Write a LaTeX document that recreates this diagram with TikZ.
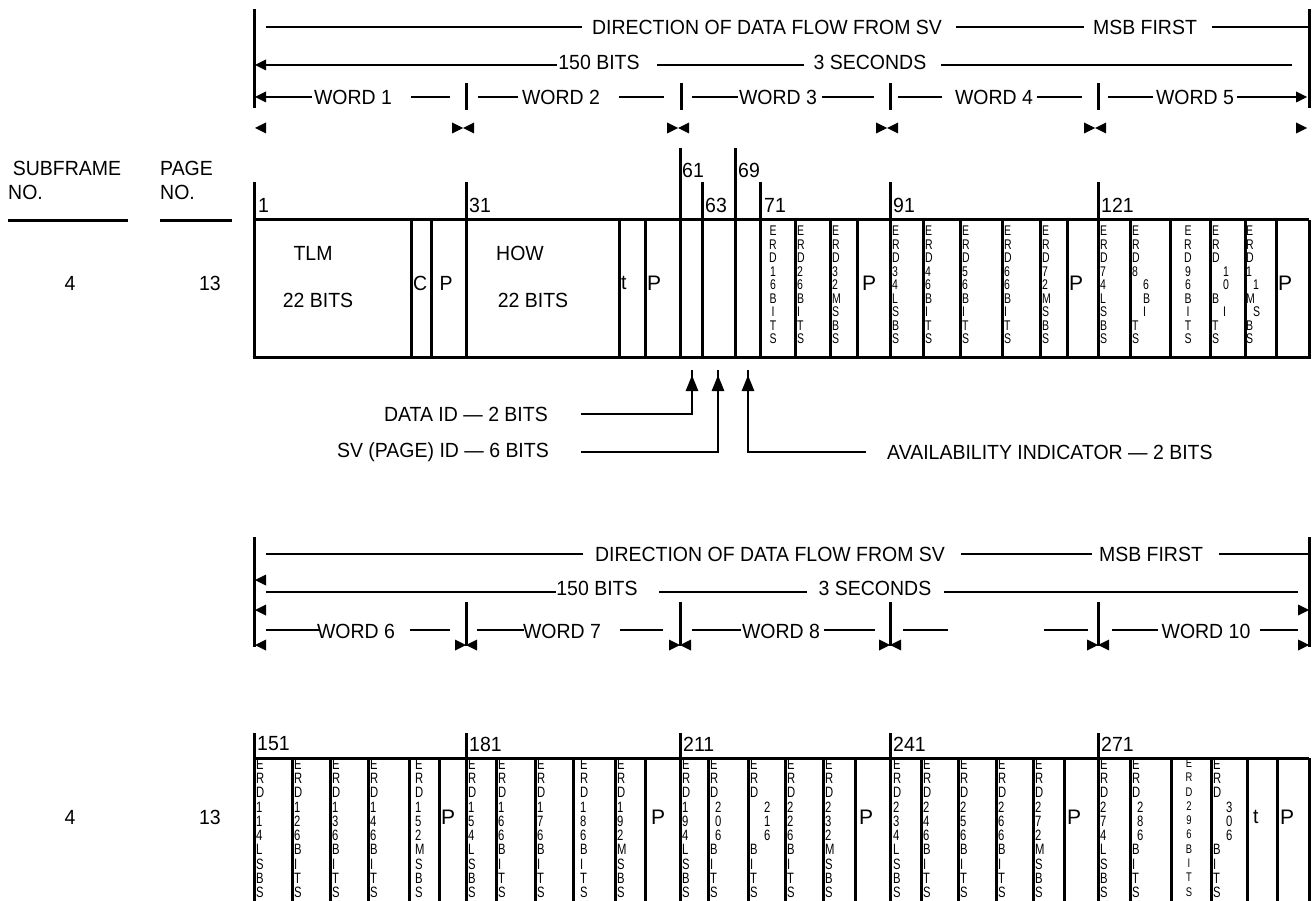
\documentclass[tikz,border=0pt]{standalone}
\usepackage{fontspec}
\setmainfont{Liberation Sans}
\newfontfamily\narrowf[FakeStretch=0.75]{Liberation Sans}
\newfontfamily\lblf[FakeStretch=0.95,Ligatures=TeX]{Liberation Sans}
\usetikzlibrary{arrows.meta}
\tikzset{
  lbl/.style={font=\lblf\fontsize{20.5}{22}\selectfont, inner sep=0pt},
  bigp/.style={font=\fontsize{21}{24}\selectfont, inner sep=0pt},
  stkT/.style={font=\narrowf\fontsize{14}{13.5}\selectfont, align=left, inner sep=0pt, anchor=north west},
  stkTc/.style={font=\narrowf\fontsize{14}{13.5}\selectfont, align=center, inner sep=0pt, anchor=north},
  stkB/.style={font=\narrowf\fontsize{15}{14.3}\selectfont, align=left, inner sep=0pt, anchor=north west},
  stkBc/.style={font=\narrowf\fontsize{12.5}{14.3}\selectfont, align=center, inner sep=0pt, anchor=north},
  rule/.style={line width=2.6pt},
  bar/.style={line width=3pt},
  box/.style={line width=3pt},
  ptr/.style={line width=2.6pt, -{Triangle[length=16pt,width=12pt]}},
}
\newcommand\tril[2]{\fill (#1,#2) -- ++(11,-5.5) -- ++(0,11) -- cycle;}
\newcommand\trir[2]{\fill (#1,#2) -- ++(-11,-5.5) -- ++(0,11) -- cycle;}
\newcommand\stkt[3]{\node[stkT] (#1) at (#2,226.0) {#3};}
\newcommand\stkb[3]{\node[stkB] (#1) at (#2,758.6) {#3};}
\begin{document}
\begin{tikzpicture}[x=1pt,y=-1pt]
\useasboundingbox (0,0) rectangle (1314,901);

% ================= TOP HEADER =================
\draw[bar] (254,9) -- (254,108);
\draw[bar] (1309,9) -- (1309,108);
% row 1
\node[lbl] (dirA) at (767,27) {DIRECTION OF DATA FLOW FROM SV};
\node[lbl] (msbA) at (1145,27) {MSB FIRST};
\draw[rule] (266,27) -- (582,27);
\draw[rule] (956,27) -- (1084,27);
\draw[rule] (1212,27) -- (1309,27);
% row 2
\node[lbl] (bitsA) at (599,62) {150 BITS};
\node[lbl] (secA) at (870,62) {3 SECONDS};
\tril{255}{65}
\draw[rule] (262,65) -- (557,65);
\draw[rule] (657,65) -- (804,65);
\draw[rule] (941,65) -- (1292,65);
% row 3
\node[lbl] (w1) at (353,97) {WORD 1};
\node[lbl] (w2) at (561,97) {WORD 2};
\node[lbl] (w3) at (778,97) {WORD 3};
\node[lbl] (w4) at (994,97) {WORD 4};
\node[lbl] (w5) at (1195,97) {WORD 5};
\tril{255}{97}
\draw[rule] (262,97) -- (312,97);
\draw[rule] (411,97) -- (450,97);
\draw[rule] (478,97) -- (518,97);
\draw[rule] (619,97) -- (664,97);
\draw[rule] (692,97) -- (738,97);
\draw[rule] (822,97) -- (874,97);
\draw[rule] (898,97) -- (942,97);
\draw[rule] (1037,97) -- (1082,97);
\draw[rule] (1108,97) -- (1153,97);
\draw[rule] (1237,97) -- (1300,97);
\trir{1307}{97}
\foreach \t in {466,681,890,1098} \draw[bar] (\t,83) -- (\t,110);
% arrowhead row
\tril{255}{128}
\foreach \t in {463,678,887,1095} {\trir{\t}{128}\tril{\t}{128}}
\trir{1307}{128}

% ================= LEFT LABELS =================
\node[lbl] (subf) at (67,168) {SUBFRAME};
\node[lbl, anchor=west] (subno) at (8,192) {NO.};
\draw[bar] (8,221) -- (128,221);
\node[lbl, anchor=west] (page) at (160,168) {PAGE};
\node[lbl, anchor=west] (pageno) at (160,192) {NO.};
\draw[bar] (160,221) -- (232,221);
\node[lbl] (sf1) at (70,283) {4};
\node[lbl] (pg1) at (210,283) {13};
\node[lbl] (sf2) at (70,817) {4};
\node[lbl] (pg2) at (210,817) {13};

% ================= TOP TABLE =================
\draw[box] (254,220) -- (1309,220);
\draw[box] (252.5,357) -- (1310.5,357);
\foreach \x in {254,466,702,760,890,1098} \draw[box] (\x,182) -- (\x,357);
\foreach \x in {680,735} \draw[box] (\x,148) -- (\x,357);
\foreach \x in {411,431,619,645,795,830,857,923,960,1002,1040,1067,1130,1170,1210,1245,1276,1309}
  \draw[box] (\x,220) -- (\x,357);
\node[lbl, anchor=west] (n1) at (258,205) {1};
\node[lbl, anchor=west] (n31) at (469,205) {31};
\node[lbl, anchor=west] (n61) at (682,170) {61};
\node[lbl, anchor=west] (n63) at (705,205) {63};
\node[lbl, anchor=west] (n69) at (738,170) {69};
\node[lbl, anchor=west] (n71) at (764,205) {71};
\node[lbl, anchor=west] (n91) at (893,205) {91};
\node[lbl, anchor=west] (n121) at (1101,205) {121};
% word 1 & 2
\node[lbl] (tlm) at (313,253) {TLM};
\node[lbl] (tlmb) at (318,300) {22 BITS};
\node[lbl, anchor=west] (cc) at (413,283) {C};
\node[lbl] (pw1) at (446,283) {P};
\node[lbl] (how) at (520,253) {HOW};
\node[lbl] (howb) at (533,300) {22 BITS};
\node[lbl, anchor=west] (tt) at (621,283) {t};
\node[bigp, anchor=west] (pw2) at (647,283) {P};
% word 3
\node[stkTc] (s1) at (773,226.0) {E\\R\\D\\1\\6\\B\\I\\T\\S};
\stkt{s2}{797}{E\\R\\D\\2\\6\\B\\I\\T\\S}
\stkt{s3}{832}{E\\R\\D\\3\\2\\M\\S\\B\\S}
\node[bigp] (pw3) at (869,283) {P};
% word 4
\stkt{s4}{892}{E\\R\\D\\3\\4\\L\\S\\B\\S}
\stkt{s5}{925}{E\\R\\D\\4\\6\\B\\I\\T\\S}
\stkt{s6}{962}{E\\R\\D\\5\\6\\B\\I\\T\\S}
\stkt{s7}{1004}{E\\R\\D\\6\\6\\B\\I\\T\\S}
\stkt{s8}{1042}{E\\R\\D\\7\\2\\M\\S\\B\\S}
\node[bigp, anchor=west] (pw4) at (1069,283) {P};
% word 5
\stkt{s9}{1100}{E\\R\\D\\7\\4\\L\\S\\B\\S}
\stkt{s10}{1132}{E\\R\\D\\8\\\hspace*{11pt}6\\\hspace*{11pt}B\\\hspace*{11pt}I\\T\\S}
\node[stkTc] (s11) at (1188,226.0) {E\\R\\D\\9\\6\\B\\I\\T\\S};
\stkt{s12}{1212}{E\\R\\D\\\hspace*{11pt}1\\\hspace*{11pt}0\\B\\\hspace*{11pt}I\\T\\S}
\stkt{s13}{1246}{E\\R\\D\\1\\\hspace*{7pt}1\\M\\\hspace*{7pt}S\\B\\S}
\node[bigp, anchor=west] (pw5) at (1278,283) {P};

% ================= POINTERS =================
\node[lbl, anchor=east] (did) at (548,414) {DATA ID — 2 BITS};
\node[lbl, anchor=east] (svid) at (549,452) {SV (PAGE) ID — 6 BITS};
\node[lbl, anchor=west] (avail) at (887,452) {AVAILABILITY INDICATOR — 2 BITS};
\coordinate (didtip) at (692,375);
\coordinate (svtip) at (718,375);
\coordinate (avtip) at (748,375);
\draw[ptr] (581,414) -| (didtip);
\draw[ptr] (581,452) -| (svtip);
\draw[ptr] (866,452) -| (avtip);
\foreach \x in {692,718,748} \draw[line width=2.6pt] (\x,378) -- (\x,370);

% ================= BOTTOM HEADER =================
\draw[bar] (254,537) -- (254,647);
\draw[bar] (1309,537) -- (1309,647);
\node[lbl] (dirB) at (770,554) {DIRECTION OF DATA FLOW FROM SV};
\node[lbl] (msbB) at (1151,554) {MSB FIRST};
\draw[rule] (266,554) -- (583,554);
\draw[rule] (961,554) -- (1092,554);
\draw[rule] (1219,554) -- (1309,554);
\tril{255}{580}
\node[lbl] (bitsB) at (597,588) {150 BITS};
\node[lbl] (secB) at (875,588) {3 SECONDS};
\draw[rule] (266,592) -- (556,592);
\draw[rule] (659,592) -- (807,592);
\draw[rule] (944,592) -- (1298,592);
\tril{255}{610}
\trir{1309}{610}
\foreach \t in {466,680,890,1098} \draw[bar] (\t,602) -- (\t,646);
\node[lbl] (w6) at (356,631) {WORD 6};
\node[lbl] (w7) at (562,631) {WORD 7};
\node[lbl] (w8) at (781,631) {WORD 8};
\node[lbl] (w10) at (1206,631) {WORD 10};
\draw[rule] (266,630) -- (319,630);
\draw[rule] (410,630) -- (450,630);
\draw[rule] (477,630) -- (524,630);
\draw[rule] (620,630) -- (663,630);
\draw[rule] (692,630) -- (741,630);
\draw[rule] (824,630) -- (875,630);
\draw[rule] (903,630) -- (948,630);
\draw[rule] (1044,630) -- (1088,630);
\draw[rule] (1112,630) -- (1158,630);
\draw[rule] (1260,630) -- (1298,630);
\tril{255}{645}
\foreach \t in {466,680,890,1098} {\trir{\t}{645}\tril{\t}{645}}
\trir{1309}{645}

% ================= BOTTOM TABLE =================
\draw[box] (254,758) -- (1309,758);
\foreach \x in {254,466,680,890,1098} \draw[box] (\x,733) -- (\x,901);
\foreach \x in {292,330,368,409,439,496,535,573,615,645,708,748,785,823,855,921,958,996,1033,1064,1130,1171,1211,1247,1277,1309}
  \draw[box] (\x,758) -- (\x,901);
\node[lbl, anchor=west] (n151) at (257,744) {151};
\node[lbl, anchor=west] (n181) at (469,744) {181};
\node[lbl, anchor=west] (n211) at (683,744) {211};
\node[lbl, anchor=west] (n241) at (893,744) {241};
\node[lbl, anchor=west] (n271) at (1101,744) {271};
% word 6
\stkb{b1}{256}{E\\R\\D\\1\\1\\4\\L\\S\\B\\S}
\stkb{b2}{294}{E\\R\\D\\1\\2\\6\\B\\I\\T\\S}
\stkb{b3}{332}{E\\R\\D\\1\\3\\6\\B\\I\\T\\S}
\stkb{b4}{370}{E\\R\\D\\1\\4\\6\\B\\I\\T\\S}
\stkb{b5}{415}{E\\R\\D\\1\\5\\2\\M\\S\\B\\S}
\node[bigp, anchor=west] (pb1) at (441,817) {P};
% word 7
\stkb{b6}{468}{E\\R\\D\\1\\5\\4\\L\\S\\B\\S}
\stkb{b7}{498}{E\\R\\D\\1\\6\\6\\B\\I\\T\\S}
\stkb{b8}{537}{E\\R\\D\\1\\7\\6\\B\\I\\T\\S}
\stkb{b9}{580}{E\\R\\D\\1\\8\\6\\B\\I\\T\\S}
\stkb{b10}{617}{E\\R\\D\\1\\9\\2\\M\\S\\B\\S}
\node[bigp] (pb2) at (658,817) {P};
% word 8
\stkb{b11}{682}{E\\R\\D\\1\\9\\4\\L\\S\\B\\S}
\stkb{b12}{710}{E\\R\\D\\\hspace*{5pt}2\\\hspace*{5pt}0\\\hspace*{5pt}6\\B\\I\\T\\S}
\stkb{b13}{750}{E\\R\\D\\\hspace*{14pt}2\\\hspace*{14pt}1\\\hspace*{14pt}6\\B\\I\\T\\S}
\stkb{b14}{787}{E\\R\\D\\2\\2\\6\\B\\I\\T\\S}
\stkb{b15}{825}{E\\R\\D\\2\\3\\2\\M\\S\\B\\S}
\node[bigp] (pb3) at (866,817) {P};
% word 9
\stkb{b16}{893}{E\\R\\D\\2\\3\\4\\L\\S\\B\\S}
\stkb{b17}{923}{E\\R\\D\\2\\4\\6\\B\\I\\T\\S}
\stkb{b18}{960}{E\\R\\D\\2\\5\\6\\B\\I\\T\\S}
\stkb{b19}{998}{E\\R\\D\\2\\6\\6\\B\\I\\T\\S}
\stkb{b20}{1035}{E\\R\\D\\2\\7\\2\\M\\S\\B\\S}
\node[bigp, anchor=west] (pb4) at (1067,817) {P};
% word 10
\stkb{b21}{1100}{E\\R\\D\\2\\7\\4\\L\\S\\B\\S}
\stkb{b22}{1132}{E\\R\\D\\\hspace*{5pt}2\\\hspace*{5pt}8\\\hspace*{5pt}6\\B\\I\\T\\S}
\node[stkBc] (b23) at (1189,758.6) {E\\R\\D\\2\\9\\6\\B\\I\\T\\S};
\stkb{b24}{1213}{E\\R\\D\\\hspace*{13pt}3\\\hspace*{13pt}0\\\hspace*{13pt}6\\B\\I\\T\\S}
\node[lbl, anchor=west] (tb) at (1253,817) {t};
\node[bigp] (pb5) at (1287,817) {P};
\end{tikzpicture}
\end{document}
